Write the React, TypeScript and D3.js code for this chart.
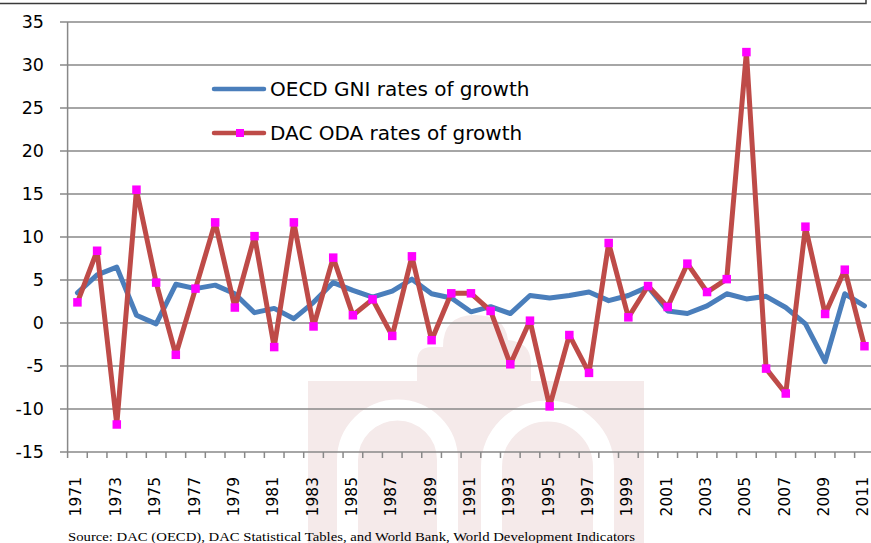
//@ts-nocheck
import * as d3 from "d3";
import { useEffect, useRef } from "react";

const years = d3.range(1971, 2012).map(String);

// OECD GNI rates of growth (%)
const gniGrowth = [
  3.5, 5.6, 6.5, 0.9, -0.1, 4.5, 4.0, 4.4, 3.4, 1.2,
  1.7, 0.5, 2.4, 4.7, 3.8, 3.0, 3.7, 5.1, 3.4, 2.9,
  1.3, 1.9, 1.1, 3.2, 2.9, 3.2, 3.6, 2.6, 3.2, 4.2,
  1.4, 1.1, 2.0, 3.4, 2.8, 3.1, 1.8, -0.1, -4.5, 3.4,
  2.0
];

// DAC ODA rates of growth (%)
const odaGrowth = [
  2.4, 8.4, -11.8, 15.5, 4.7, -3.7, 4.0, 11.7, 1.8, 10.1,
  -2.8, 11.7, -0.4, 7.6, 0.9, 2.75, -1.5, 7.75, -2.0, 3.45,
  3.45, 1.4, -4.8, 0.27, -9.7, -1.4, -5.8, 9.3, 0.66, 4.3,
  1.86, 6.9, 3.6, 5.1, 31.5, -5.3, -8.2, 11.2, 1.05, 6.2,
  -2.7
];

const yTicks = [-15, -10, -5, 0, 5, 10, 15, 20, 25, 30, 35];
const xLabels = years.filter((d, i) => i % 2 === 0);

const legendItems = ["OECD GNI rates of growth", "DAC ODA rates of growth"];
const sourceNote = "Source: DAC (OECD), DAC Statistical Tables, and World Bank, World Development Indicators";

const BLUE = "#4a7ebb";
const RED = "#be4b48";
const MAGENTA = "#ff00ff";
const GRID = "#888888";
const WATERMARK = "#f5eaea";

const GrowthChart = () => {
  const ref = useRef(null);

  useEffect(() => {
    ref.current.innerHTML = "";
    const width = 871, height = 543;

    const svg = d3.select(ref.current)
      .attr("width", width)
      .attr("height", height)
      .style("font-family", "'DejaVu Sans', sans-serif");

    const x = d3.scaleBand().domain(years).range([67.6, 874.3]).padding(0);
    const y = d3.scaleLinear().domain([-15, 35]).range([452, 22]);
    const cx = d => x(d) + x.bandwidth() / 2;

    // faint watermark behind the plot
    const wm = svg.append("g");
    wm.append("rect")
      .attr("x", 308).attr("y", 381)
      .attr("width", 336).attr("height", 170)
      .attr("fill", WATERMARK);
    wm.append("path")
      .attr("d", "M417,382 L417,362 Q417,347 432,347 L443,347 Q443,315 475,315 Q505,315 508,340 Q530,342 531,362 L531,382 Z")
      .attr("fill", WATERMARK);
    wm.append("path")
      .attr("d", "M347.5,560 L347.5,460 A50,50 0 0 1 447.5,460 L447.5,560 M491.5,560 L491.5,467 A56,56 0 0 1 603.5,467 L603.5,560")
      .attr("fill", "none")
      .attr("stroke", "#ffffff")
      .attr("stroke-width", 21);

    // top frame edge
    svg.append("path")
      .attr("d", "M-2,3.5 H866 V-2")
      .attr("fill", "none")
      .attr("stroke", "#3a3a3a")
      .attr("stroke-width", 1.5);

    // horizontal gridlines with ticks on the left
    svg.append("g")
      .selectAll("line")
      .data(yTicks)
      .enter()
      .append("line")
      .attr("x1", 60).attr("x2", width)
      .attr("y1", d => y(d)).attr("y2", d => y(d))
      .attr("stroke", GRID)
      .attr("stroke-width", 1.5);

    // y axis line
    svg.append("line")
      .attr("x1", 67.6).attr("x2", 67.6)
      .attr("y1", y(35)).attr("y2", y(-15))
      .attr("stroke", GRID)
      .attr("stroke-width", 1.5);

    // x ticks at category boundaries
    svg.append("g")
      .selectAll("line")
      .data(years)
      .enter()
      .append("line")
      .attr("x1", d => x(d)).attr("x2", d => x(d))
      .attr("y1", y(-15)).attr("y2", y(-15) + 6)
      .attr("stroke", GRID)
      .attr("stroke-width", 1.5);

    // y tick labels
    svg.append("g")
      .selectAll("text")
      .data(yTicks)
      .enter()
      .append("text")
      .attr("x", 44)
      .attr("y", d => y(d))
      .attr("dy", "0.36em")
      .attr("text-anchor", "end")
      .style("font-size", "17.5px")
      .attr("fill", "#000")
      .text(d => d);

    // x tick labels, rotated
    svg.append("g")
      .selectAll("text")
      .data(xLabels)
      .enter()
      .append("text")
      .attr("transform", d => "translate(" + cx(d) + ",477) rotate(-90)")
      .attr("dy", "0.26em")
      .attr("text-anchor", "end")
      .style("font-size", "15.5px")
      .attr("fill", "#000")
      .text(d => d);

    // series lines
    const line = d3.line()
      .x((d, i) => cx(years[i]))
      .y(d => y(d));

    svg.append("path")
      .datum(gniGrowth)
      .attr("d", line)
      .attr("fill", "none")
      .attr("stroke", BLUE)
      .attr("stroke-width", 5)
      .attr("stroke-linejoin", "round")
      .attr("stroke-linecap", "round");

    svg.append("path")
      .datum(odaGrowth)
      .attr("d", line)
      .attr("fill", "none")
      .attr("stroke", RED)
      .attr("stroke-width", 5)
      .attr("stroke-linejoin", "round")
      .attr("stroke-linecap", "round");

    const m = 8.5;
    svg.append("g")
      .selectAll("rect")
      .data(odaGrowth)
      .enter()
      .append("rect")
      .attr("x", (d, i) => cx(years[i]) - m / 2)
      .attr("y", d => y(d) - m / 2)
      .attr("width", m).attr("height", m)
      .attr("fill", MAGENTA);

    // legend
    const legend = svg.append("g");
    const legY = [89, 133];
    legend.selectAll("line")
      .data(legendItems)
      .enter()
      .append("line")
      .attr("x1", 214).attr("x2", 264)
      .attr("y1", (d, i) => legY[i]).attr("y2", (d, i) => legY[i])
      .attr("stroke", (d, i) => i === 0 ? BLUE : RED)
      .attr("stroke-width", 4.5)
      .attr("stroke-linecap", "round");
    legend.append("rect")
      .attr("x", 240 - 4).attr("y", legY[1] - 4)
      .attr("width", 8).attr("height", 8)
      .attr("fill", MAGENTA);
    legend.selectAll("text")
      .data(legendItems)
      .enter()
      .append("text")
      .attr("x", 270)
      .attr("y", (d, i) => legY[i])
      .attr("dy", "0.36em")
      .style("font-size", "20px")
      .attr("fill", "#000")
      .text(d => d);

    // source note
    svg.append("text")
      .attr("x", 68)
      .attr("y", 541)
      .attr("textLength", 567)
      .attr("lengthAdjust", "spacingAndGlyphs")
      .style("font-family", "'Liberation Serif', serif")
      .style("font-size", "13px")
      .attr("fill", "#000")
      .text(sourceNote);
  }, []);

  return (
    <svg ref={ref} style={{ position: "absolute", left: 0, top: 0, display: "block" }}></svg>
  );
};

export default function App() {
  return <GrowthChart />;
}
